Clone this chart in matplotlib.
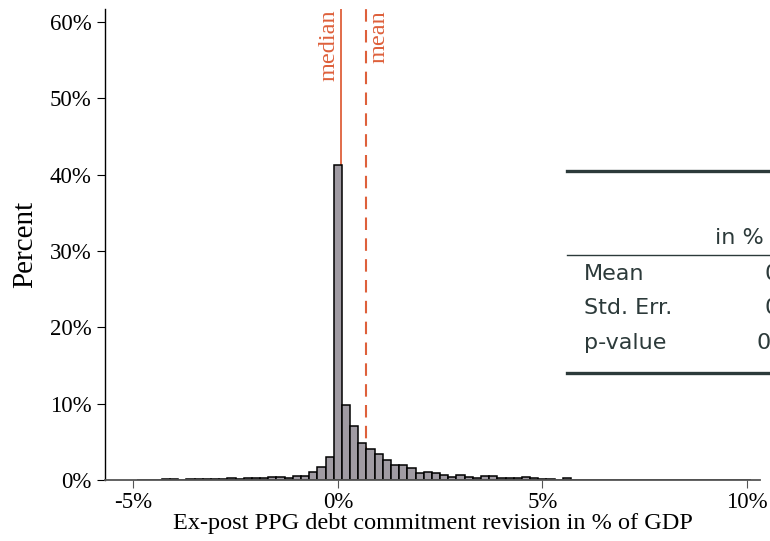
import matplotlib
matplotlib.use("Agg")
import matplotlib.pyplot as plt
from matplotlib.lines import Line2D
from matplotlib.ticker import FuncFormatter

# ---- data ----
bin_first_center = -4.8
bin_width = 0.2
pct_neg = [0.05, 0.05, 0.0, 0.08, 0.08, 0.05, 0.1, 0.1, 0.1, 0.1, 0.15, 0.25,
           0.1, 0.3, 0.2, 0.2, 0.34, 0.34, 0.3, 0.48, 0.56, 1.1, 1.65, 3.06]
pct_zero = [41.2]
pct_pos = [9.78, 7.06, 4.85, 4.08, 3.4, 2.66, 2.0, 2.0, 1.57, 0.93, 1.1, 0.93,
           0.66, 0.38, 0.64, 0.38, 0.32, 0.5, 0.57, 0.3, 0.24, 0.28, 0.35, 0.27,
           0.17, 0.1, 0.05, 0.3, 0.05]
pct_tail = [0.05, 0.04, 0.03, 0.0, 0.04, 0.03, 0.04, 0.05, 0.03, 0.04, 0.04,
            0.03, 0.03, 0.04, 0.05, 0.04, 0.03, 0.03, 0.04, 0.03, 0.05]
median_val = 0.07
mean_val = 0.69
xticks = [-5, 0, 5, 10]
yticks = [0, 10, 20, 30, 40, 50, 60]
table_rows = ["Mean", "Std. Err.", "p-value"]
table_vals = ["0.69", "0.07", "0.000"]
table_header = "in %"

percents = pct_neg + pct_zero + pct_pos + pct_tail
centers = [bin_first_center + i * bin_width for i in range(len(percents))]

serif = ["Liberation Serif", "DejaVu Serif"]
plt.rcParams["font.family"] = serif

fig = plt.figure(figsize=(7.7, 5.41), dpi=100)
ax = fig.add_axes([105.5 / 770, 1 - 480 / 541, (760 - 105.5) / 770, (480 - 9) / 541])

accent = "#de603b"
ax.axvline(median_val, color=accent, lw=1.3, zorder=1)
ax.axvline(mean_val, color=accent, lw=1.5, ls=(0, (6, 4)), zorder=1)
ax.bar(centers, percents, width=bin_width, color="#a09ba3", edgecolor="black",
       linewidth=1.1, zorder=2)

ax.text(median_val - 0.02, 61.6, "median", rotation=90, ha="right", va="top",
        color=accent, fontsize=17.5)
ax.text(mean_val + 0.06, 61.6, "mean", rotation=90, ha="left", va="top",
        color=accent, fontsize=17.5)

ax.set_xlim(-5.68, 10.32)
ax.set_ylim(0, 61.7)
ax.set_xticks(xticks)
ax.set_yticks(yticks)
ax.xaxis.set_major_formatter(FuncFormatter(lambda v, p: f"{v:g}%"))
ax.yaxis.set_major_formatter(FuncFormatter(lambda v, p: f"{v:g}%"))
ax.tick_params(axis="both", labelsize=16.5, length=6, direction="out")
ax.tick_params(axis="x", color="#555555", pad=3)
ax.tick_params(axis="y", color="black", pad=4)
for s in ["top", "right"]:
    ax.spines[s].set_visible(False)
ax.spines["bottom"].set_color("#555555")
ax.spines["left"].set_color("black")
ax.spines["left"].set_linewidth(1.0)
ax.spines["bottom"].set_linewidth(1.3)

ax.set_ylabel("Percent", fontsize=21, labelpad=8)
ax.set_xlabel("Ex-post PPG debt commitment revision in % of GDP", fontsize=17.5, labelpad=0)

# ---- summary table (clipped at the right edge, as in the original) ----
tcol = "#2c3a3a"
W, H = 770.0, 541.0
def fx(px):
    return px / W
def fy(py):
    return 1 - py / H
fig.add_artist(Line2D([fx(567), fx(790)], [fy(171), fy(171)], color=tcol, lw=2.4))
fig.add_artist(Line2D([fx(567), fx(790)], [fy(255), fy(255)], color=tcol, lw=1.0))
fig.add_artist(Line2D([fx(567), fx(790)], [fy(373), fy(373)], color=tcol, lw=2.4))
tfont = ["DejaVu Sans"]
tsize = 16
fig.text(fx(715), fy(238), table_header, fontsize=tsize, family=tfont, color=tcol, va="center", ha="left")
row_y = [274, 308, 343]
val_x = [764, 764, 757]
for lab, val, yy, vx in zip(table_rows, table_vals, row_y, val_x):
    fig.text(fx(584), fy(yy), lab, fontsize=tsize, family=tfont, color=tcol, va="center", ha="left")
    fig.text(fx(vx), fy(yy), val, fontsize=tsize, family=tfont, color=tcol, va="center", ha="left")

fig.savefig("out.png", dpi=100)
